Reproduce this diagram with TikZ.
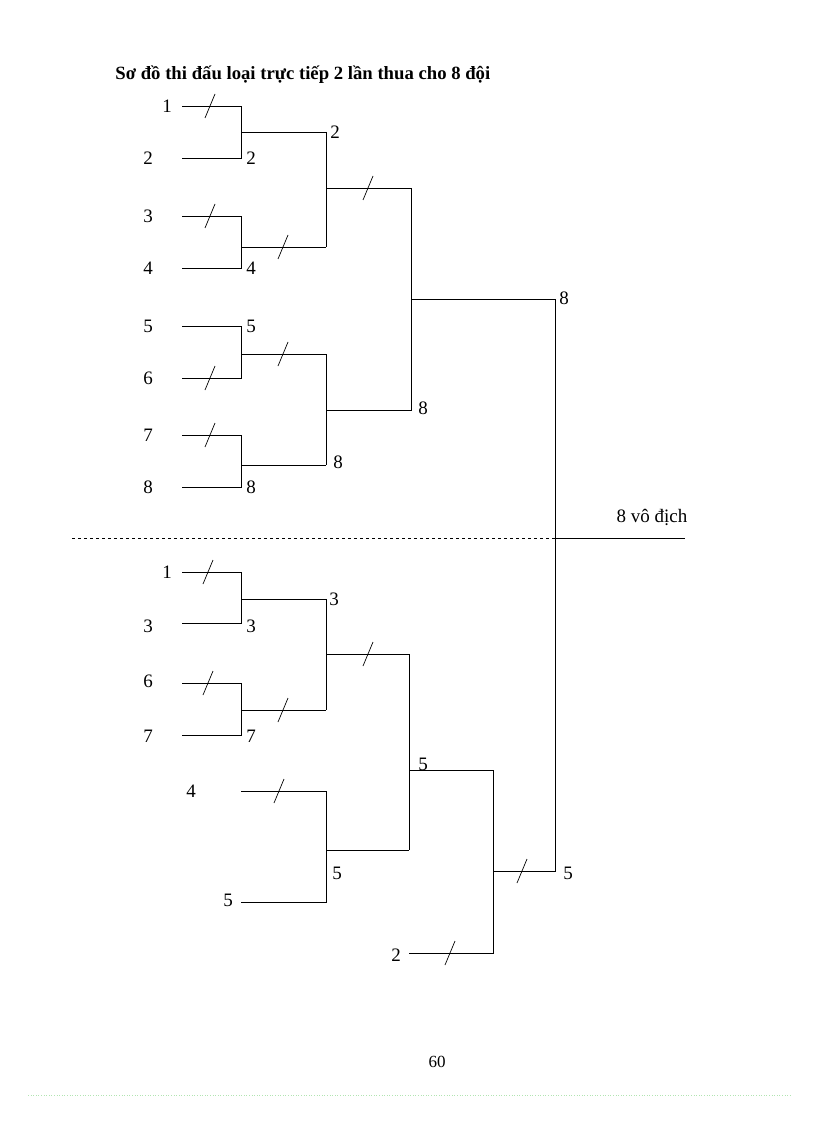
\documentclass[tikz,border=0pt]{standalone}
\usepackage{fontspec}
\setmainfont{Liberation Serif}
\begin{document}
\begin{tikzpicture}[x=1pt,y=-1pt,line width=0.8pt,
  lbl/.style={font=\fontsize{19}{19}\selectfont,inner sep=0pt},
  cut/.pic={\draw[line width=0.7pt] (-5,12) -- (5,-12);}]
\useasboundingbox (0,0) rectangle (816,1123);
\node[lbl,anchor=west,font=\fontsize{18.7}{19}\selectfont\bfseries] (title) at (115,75) {Sơ đồ thi đấu loại trực tiếp 2 lần thua cho 8 đội};
% top bracket
\foreach \n/\y/\x in {1/106/167,2/158/148,3/216/148,4/268/148,5/326/148,6/378/148,7/435/148,8/487/148}
  \node[lbl] (t\n) at (\x,\y) {\n};
\foreach \a/\b/\m/\w/\wl in {106/158/132/2/158,216/268/247/4/268,326/378/354/5/326,435/487/465/8/487}{
  \draw (182,\a) -- (241,\a) -- (241,\b) -- (182,\b);
  \draw (241,\m) -- (326,\m);
  \node[lbl,anchor=west] at (246,\wl) {\w};
}
\draw (326,132) -- (326,247);
\draw (326,354) -- (326,465);
\node[lbl,anchor=west] at (330,132) {2};
\node[lbl,anchor=west] at (333,462) {8};
\draw (326,188) -- (411,188) -- (411,410) -- (326,410);
\node[lbl,anchor=west] at (418,408) {8};
\draw (411,299) -- (555,299);
\node[lbl,anchor=west] at (559,298) {8};
\draw (555,299) -- (555,871) -- (493,871);
\node[lbl,anchor=west] at (563,873) {5};
\draw (555,538) -- (685,538);
\node[lbl] (champ) at (652,517) {8 vô địch};
\draw[dashed,line width=0.7pt] (72,538) -- (555,538);
\foreach \p in {(210,106),(210,216),(283,247),(368,188),(210,378),(283,354),(210,435)}
  \pic at \p {cut};
% bottom bracket
\node[lbl] (b1) at (167,572) {1};
\node[lbl] (b3) at (148,626) {3};
\node[lbl] (b6) at (148,681) {6};
\node[lbl] (b7) at (148,736) {7};
\node[lbl] (b4) at (191,791) {4};
\node[lbl] (b5) at (228,900) {5};
\node[lbl] (b2) at (396,955) {2};
\draw (182,572) -- (241,572) -- (241,623) -- (182,623);
\draw (241,599) -- (326,599);
\node[lbl,anchor=west] at (246,626) {3};
\node[lbl,anchor=west] at (329,599) {3};
\draw (182,683) -- (241,683) -- (241,735) -- (182,735);
\draw (241,710) -- (326,710);
\node[lbl,anchor=west] at (246,736) {7};
\draw (326,599) -- (326,710);
\draw (326,654) -- (409,654);
\draw (241,791) -- (326,791) -- (326,902) -- (241,902);
\draw (326,850) -- (409,850);
\node[lbl,anchor=west] at (332,873) {5};
\draw (409,654) -- (409,850);
\draw (409,770) -- (493,770);
\node[lbl,anchor=west] at (418,764) {5};
\draw (409,953) -- (493,953) -- (493,770);
\foreach \p in {(208,572),(208,683),(283,710),(368,654),(279,791),(522,871),(450,953)}
  \pic at \p {cut};
\node[lbl,font=\fontsize{17}{17}\selectfont] (page) at (437,1062) {60};
\draw[dotted,green!50!gray!40,line width=0.6pt] (28,1095) -- (790,1095);
\end{tikzpicture}
\end{document}
